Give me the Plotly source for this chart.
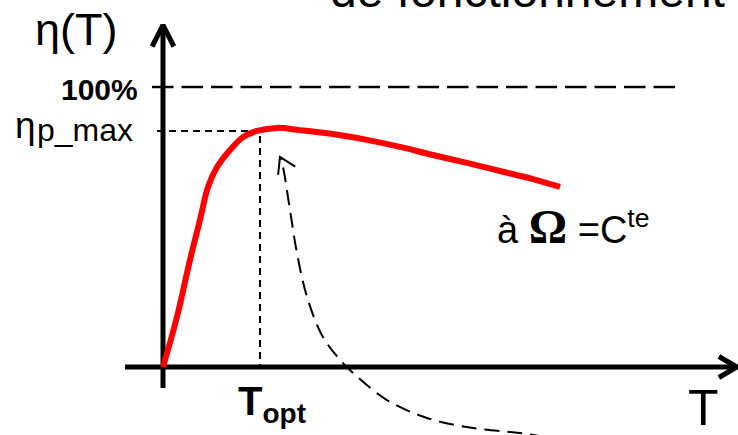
"""
Rendement eta(T) a vitesse constante : schema avec T_opt et eta_p_max.
"""

import math

import plotly.graph_objects as go

W, H = 738, 435
# scale of the drawing: pixels per unit of T and per % of eta
PX_T, PX_ETA = 97.0, 2.8
X0, Y0 = 163.0, 367.0  # pixel position of the origin

# efficiency curve (T in units of T_opt, eta in %)
curve_T = [0.0, 0.144, 0.278, 0.381, 0.464, 0.557, 0.691, 0.825, 0.969, 1.175,
           1.412, 1.753, 2.103, 2.443, 2.784, 3.134, 3.474, 3.814, 4.093]
curve_eta = [0.0, 17.9, 38.2, 52.5, 64.3, 71.4, 77.5, 82.1, 84.3, 85.4,
             84.6, 83.2, 81.1, 78.6, 75.7, 72.9, 70.0, 67.1, 64.3]

T_opt = 1.0
eta_p_max = 84.3
eta_full = 100.0

# dashed curved arrow pointing at the optimum
arrow_T = [3.938, 3.680, 3.196, 2.722, 2.309, 1.959, 1.856, 1.649, 1.485,
           1.381, 1.309, 1.237, 1.206]
arrow_eta = [-25.0, -23.6, -21.8, -18.2, -11.8, -2.1, 1.4, 10.7, 25.0,
             40.7, 56.1, 71.4, 75.0]

# axis extents
T_axis = [-0.392, 5.918]
eta_axis = [-7.5, 122.1]
T_dash_100 = [-0.113, 5.34]

FONT = "Liberation Sans, Arial, sans-serif"


def chevron(tip_t, tip_eta, back_deg, half_deg, length_px):
    """Open arrow head: two arms going back from the tip (screen angles)."""
    xs, ys = [], []
    for a in (back_deg + half_deg, None, back_deg - half_deg):
        if a is None:
            xs.append(tip_t)
            ys.append(tip_eta)
            continue
        r = math.radians(a)
        xs.append(tip_t + length_px * math.cos(r) / PX_T)
        ys.append(tip_eta - length_px * math.sin(r) / PX_ETA)
    return xs, ys


def line(x, y, color="black", width=2, dash=None, shape="linear"):
    return go.Scatter(
        x=x, y=y, mode="lines", hoverinfo="skip", showlegend=False,
        line=dict(color=color, width=width, dash=dash, shape=shape),
    )


fig = go.Figure()

# dashed guides
fig.add_trace(line(T_dash_100, [eta_full, eta_full], width=2.5, dash="21.5px,8px"))
fig.add_trace(line([-0.062, T_opt, T_opt], [eta_p_max, eta_p_max, 0],
                   width=2, dash="7px,5px"))

# axes
fig.add_trace(line(T_axis, [0, 0], width=5))
fig.add_trace(line([0, 0], eta_axis, width=5))
hx, hy = chevron(T_axis[1], 0, 180, 30, 21)
fig.add_trace(line(hx, hy, width=5))
hx, hy = chevron(0, eta_axis[1], 90, 27, 24)
fig.add_trace(line(hx, hy, width=5))

# curved dashed arrow
fig.add_trace(line(arrow_T, arrow_eta, width=2, dash="15px,8px", shape="spline"))
hx, hy = chevron(arrow_T[-1], arrow_eta[-1], 64, 32, 18)
fig.add_trace(line(hx, hy, width=2))

# efficiency curve
fig.add_trace(line(curve_T, curve_eta, color="#FF0000", width=6, shape="spline"))


def note(text, x_px, top_px, size, xanchor="left", bold=False, family=FONT):
    fig.add_annotation(
        x=x_px / W, y=1 - top_px / H, xref="paper", yref="paper",
        xanchor=xanchor, yanchor="top", showarrow=False,
        text=f"<b>{text}</b>" if bold else text,
        font=dict(family=family, size=size, color="black"),
    )


note("de fonctionnement", 328, -38.5, 48)
note("η(T)", 33, 2.3, 45)
note("100%", 140, 70.8, 30, xanchor="right", bold=True)
note("η", 13, 102.5, 37)
note("p_max", 35, 110, 32)
note("T<sub>opt</sub>", 236, 376.8, 40, bold=True)
note("T", 686, 377.8, 50)
note("à <span style='font-family:Liberation Serif;font-size:48px'><b>Ω</b></span>"
     "&nbsp;=C<sup>te</sup>", 495, 198, 38)

fig.update_layout(
    width=W, height=H,
    margin=dict(l=0, r=0, t=0, b=0),
    paper_bgcolor="white", plot_bgcolor="white",
    xaxis=dict(range=[-X0 / PX_T, (W - X0) / PX_T], visible=False, fixedrange=True),
    yaxis=dict(range=[(Y0 - H) / PX_ETA, Y0 / PX_ETA], visible=False, fixedrange=True),
)

# the page body has a default 8px margin; drop it so the figure fills the window
fig.write_html("out.html", post_script="document.body.style.margin='0';",
               config={"displayModeBar": False})
